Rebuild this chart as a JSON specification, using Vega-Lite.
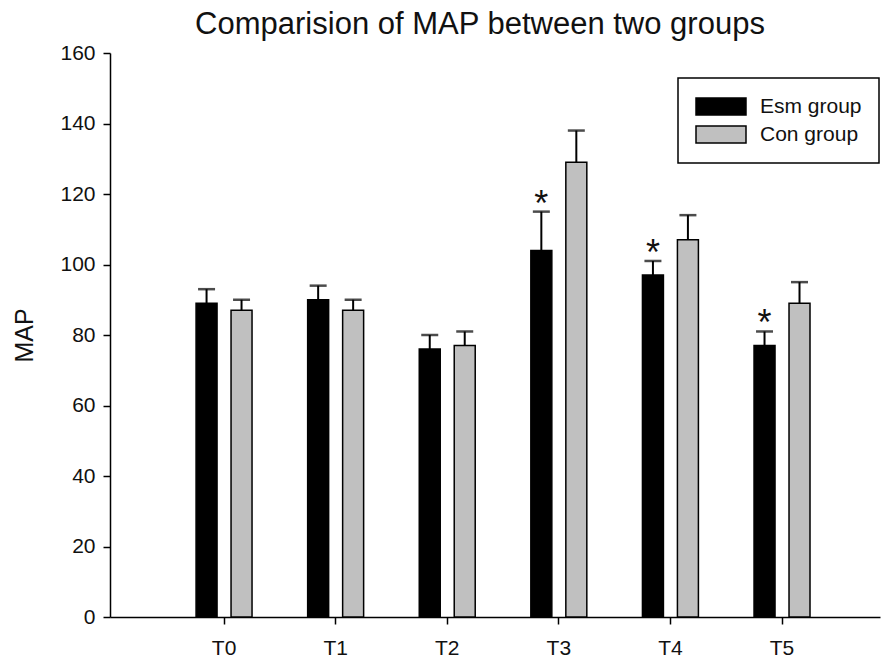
{
  "$schema": "https://vega.github.io/schema/vega-lite/v6.json",
  "autosize": "none",
  "width": 770,
  "height": 564,
  "padding": {"left": 110, "top": 53, "right": 5, "bottom": 47},
  "background": "white",
  "config": {
    "view": {"stroke": null},
    "font": "Liberation Sans",
    "axis": {"labelFont": "Liberation Sans", "titleFont": "Liberation Sans", "domainColor": "black", "tickColor": "black", "labelColor": "#111", "titleColor": "#111", "domainWidth": 1.5, "tickWidth": 1.5, "grid": false, "labelFontSize": 21, "tickSize": 7},
    "axisX": {"labelPadding": 13, "labelAngle": 0},
    "axisY": {"labelPadding": 8, "titleFontSize": 25, "titleFontWeight": "normal", "titlePadding": 22}
  },
  "title": {"text": "Comparision of MAP between two groups", "fontSize": 31, "fontWeight": "normal", "font": "Liberation Sans", "color": "#111", "anchor": "middle", "dx": -15, "offset": 1},
  "data": {"values": [
    {"time": "T0", "group": "Esm group", "mean": 89, "upper": 93, "sig": ""},
    {"time": "T0", "group": "Con group", "mean": 87, "upper": 90, "sig": ""},
    {"time": "T1", "group": "Esm group", "mean": 90, "upper": 94, "sig": ""},
    {"time": "T1", "group": "Con group", "mean": 87, "upper": 90, "sig": ""},
    {"time": "T2", "group": "Esm group", "mean": 76, "upper": 80, "sig": ""},
    {"time": "T2", "group": "Con group", "mean": 77, "upper": 81, "sig": ""},
    {"time": "T3", "group": "Esm group", "mean": 104, "upper": 115, "sig": "*"},
    {"time": "T3", "group": "Con group", "mean": 129, "upper": 138, "sig": ""},
    {"time": "T4", "group": "Esm group", "mean": 97, "upper": 101, "sig": "*"},
    {"time": "T4", "group": "Con group", "mean": 107, "upper": 114, "sig": ""},
    {"time": "T5", "group": "Esm group", "mean": 77, "upper": 81, "sig": "*"},
    {"time": "T5", "group": "Con group", "mean": 89, "upper": 95, "sig": ""}
  ]},
  "encoding": {
    "x": {"field": "time", "type": "nominal", "sort": null,
      "scale": {"paddingInner": 0, "paddingOuter": 0.45, "align": 0.58},
      "axis": {"title": null}},
    "xOffset": {"field": "group", "type": "nominal", "sort": ["Esm group", "Con group"],
      "scale": {"paddingInner": 0.4, "paddingOuter": 0.795}}
  },
  "layer": [
    {
      "mark": {"type": "rule", "strokeWidth": 2, "color": "black"},
      "encoding": {
        "y": {"field": "mean", "type": "quantitative",
          "scale": {"domain": [0, 160], "nice": false},
          "axis": {"title": "MAP", "values": [0, 20, 40, 60, 80, 100, 120, 140, 160]}},
        "y2": {"field": "upper"}
      }
    },
    {
      "mark": {"type": "tick", "orient": "horizontal", "size": 17, "thickness": 2.5, "color": "black"},
      "encoding": {
        "y": {"field": "upper", "type": "quantitative"}
      }
    },
    {
      "mark": {"type": "bar", "stroke": "black", "strokeWidth": 1.5},
      "encoding": {
        "y": {"field": "mean", "type": "quantitative"},
        "fill": {"field": "group", "type": "nominal", "sort": ["Esm group", "Con group"],
          "scale": {"domain": ["Esm group", "Con group"], "range": ["black", "#c0c0c0"]},
          "legend": {
            "title": null, "orient": "none", "legendX": 568, "legendY": 25,
            "symbolType": "M-1,-0.34H1V0.34H-1Z", "symbolSize": 2500,
            "symbolStrokeColor": "black", "symbolStrokeWidth": 1.5,
            "clipHeight": 23, "rowPadding": 5, "labelOffset": 13,
            "labelFontSize": 21, "labelFont": "Liberation Sans", "labelColor": "#111",
            "strokeColor": "black", "padding": 17,
            "encode": {"legend": {"update": {"strokeWidth": {"value": 1.5}}}}
          }}
      }
    },
    {
      "mark": {"type": "text", "fontSize": 36, "baseline": "alphabetic", "dy": 4, "color": "#111"},
      "encoding": {
        "y": {"field": "upper", "type": "quantitative"},
        "text": {"field": "sig"}
      }
    }
  ]
}
